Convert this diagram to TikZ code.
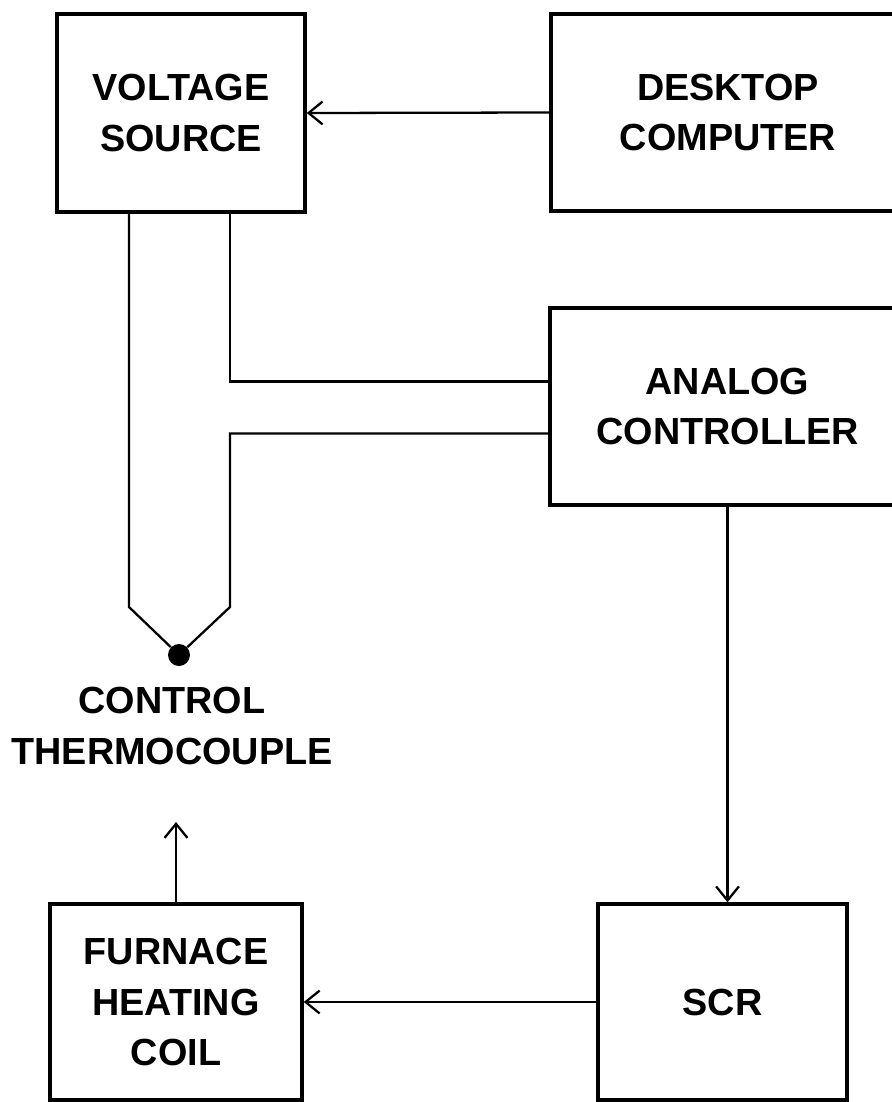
\documentclass[tikz,border=0pt]{standalone}
\usepackage{fontspec}
\setmainfont{Liberation Sans}
\usetikzlibrary{arrows.meta,positioning,calc}

\tikzset{
  blockbox/.style={draw,line width=2pt,align=center,inner sep=0pt,
    font=\fontsize{21.5}{28.5}\selectfont\bfseries},
  wire/.style={line width=1.3pt},
  sig/.style={wire,-{Straight Barb[length=8pt,width=13pt,line width=1.3pt]}}
}

\begin{document}
\begin{tikzpicture}[x=0.02cm,y=-0.02cm]
  \useasboundingbox (0,0) rectangle (892,1102);
  \clip (0,0) rectangle (892,1102);
  % blocks
  \node[blockbox,minimum width=4.96cm,minimum height=3.96cm] (vs) at (181,113) {VOLTAGE\\SOURCE};
  \node[blockbox,minimum width=7.08cm,minimum height=3.94cm] (dc) at (728,112.5) {DESKTOP\\COMPUTER};
  \node[blockbox,minimum width=7.1cm,minimum height=3.94cm] (ac) at (727.5,406.5) {ANALOG\\CONTROLLER};
  \node[blockbox,minimum width=4.98cm,minimum height=3.92cm] (scr) at (722.5,1002) {SCR};
  \node[blockbox,minimum width=5.04cm,minimum height=3.92cm] (fhc) at (176,1002) {FURNACE\\HEATING\\COIL};
  % thermocouple
  \node[circle,fill,inner sep=0pt,minimum size=0.44cm] (tj) at (179,655) {};
  \node[align=center,font=\fontsize{21.5}{29.5}\selectfont\bfseries] (tclabel) at (172,726) {CONTROL\\THERMOCOUPLE};
  \coordinate (tcL) at (129,607);
  \coordinate (tcR) at (230,607);
  \coordinate (acA) at ($(ac.west)+(0,-25)$);
  \coordinate (acB) at ($(ac.west)+(0,27)$);
  \coordinate (heat) at (176,822);
  \draw[wire] (vs.south -| tcL) -- (tcL) -- (tj);
  \draw[wire] (vs.south -| tcR) |- (acA);
  \draw[wire] (acB) -| (tcR) -- (tj);
  % signals
  \draw[sig] (dc.west) -- (vs.east);
  \draw[sig] (ac.south) -- (ac.south |- scr.north);
  \draw[sig] (scr.west) -- (scr.west -| fhc.east);
  \draw[sig] (fhc.north) -- (heat);
\end{tikzpicture}
\end{document}
